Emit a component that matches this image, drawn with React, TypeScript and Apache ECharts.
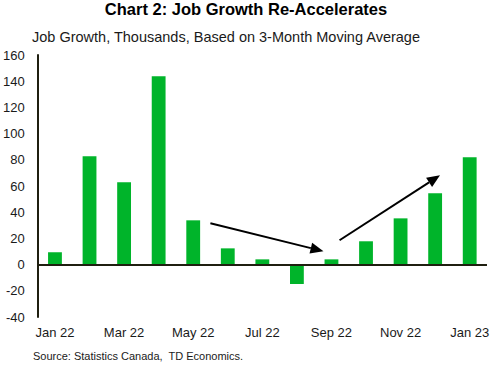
import React, { useEffect, useRef } from "react";
import * as echarts from "echarts";

const categories = ["Jan 22", "Feb 22", "Mar 22", "Apr 22", "May 22", "Jun 22", "Jul 22", "Aug 22", "Sep 22", "Oct 22", "Nov 22", "Dec 22", "Jan 23"];
const jobGrowth = [9.5, 82.7, 62.8, 143.7, 33.8, 12.4, 4, -14.8, 4, 17.8, 35.3, 54.4, 82];
const yTicks = { min: -40, max: 160, interval: 20 };
// arrows in data units: [categoryIndex, value] start -> end
const arrowDown = [[4.54, 31.6], [7.77, 10.2]];
const arrowUp = [[8.23, 18.6], [11.1, 68.2]];

const FONT = "'Liberation Sans', Arial, sans-serif";
const GRID = { left: 34, right: 3, top: 55, bottom: 54 };
const W = 492, H = 371;

function toPx(p: number[]) {
  const gw = W - GRID.left - GRID.right;
  const gh = H - GRID.top - GRID.bottom;
  const x = GRID.left + ((p[0] + 0.5) * gw) / categories.length;
  const y = GRID.top + ((yTicks.max - p[1]) / (yTicks.max - yTicks.min)) * gh;
  return [x, y];
}

function arrow(a: number[][]) {
  const s = toPx(a[0]);
  const e = toPx(a[1]);
  const dx = e[0] - s[0], dy = e[1] - s[1];
  const len = Math.hypot(dx, dy);
  const ux = dx / len, uy = dy / len;
  const hl = 13, hw = 5.5;
  const bx = e[0] - ux * hl, by = e[1] - uy * hl;
  return [
    { type: "line", shape: { x1: s[0], y1: s[1], x2: bx, y2: by }, style: { stroke: "#000", lineWidth: 2 }, z: 100 },
    {
      type: "polygon",
      shape: { points: [[e[0], e[1]], [bx - uy * hw, by + ux * hw], [bx + uy * hw, by - ux * hw]] },
      style: { fill: "#000" },
      z: 100,
    },
  ];
}

export default function App() {
  const ref = useRef<HTMLDivElement>(null);
  useEffect(() => {
    const chart = echarts.init(ref.current!, null, { renderer: "svg" });
    chart.setOption({
      animation: false,
      grid: GRID,
      title: [
        { text: "Chart 2: Job Growth Re-Accelerates", left: "center", top: 0, padding: 0, textStyle: { fontFamily: FONT, fontSize: 16.5, fontWeight: "bold", color: "#000" } },
        { text: "Job Growth, Thousands, Based on 3-Month Moving Average", left: 32, top: 29, padding: 0, textStyle: { fontFamily: FONT, fontSize: 14.5, fontWeight: "normal", color: "#1a1a1a" } },
        { text: "Source: Statistics Canada,  TD Economics.", left: 33, top: 350, padding: 0, textStyle: { fontFamily: FONT, fontSize: 11, fontWeight: "normal", color: "#1a1a1a" } },
      ],
      xAxis: {
        type: "category",
        data: categories,
        axisLine: { show: false, onZero: false },
        axisTick: { show: false },
        axisLabel: { interval: 1, fontFamily: FONT, fontSize: 13, color: "#1a1a1a", margin: 9 },
      },
      yAxis: {
        type: "value",
        min: yTicks.min,
        max: yTicks.max,
        interval: yTicks.interval,
        splitLine: { show: false },
        axisLine: { show: true, lineStyle: { color: "#1f1f10", width: 2 } },
        axisTick: { show: false },
        axisLabel: { fontFamily: FONT, fontSize: 13, color: "#1a1a1a", margin: 13 },
      },
      series: [
        {
          type: "bar",
          data: jobGrowth,
          barWidth: "40%",
          itemStyle: { color: "#00b42a" },
          markLine: {
            silent: true,
            symbol: "none",
            label: { show: false },
            lineStyle: { color: "#1f1f10", width: 2, type: "solid" },
            data: [{ yAxis: 0 }],
          },
        },
      ],
      graphic: [...arrow(arrowDown), ...arrow(arrowUp)],
    });
    return () => chart.dispose();
  }, []);
  return <div ref={ref} style={{ width: W, height: H, position: "absolute", left: 0, top: 0 }} />;
}
